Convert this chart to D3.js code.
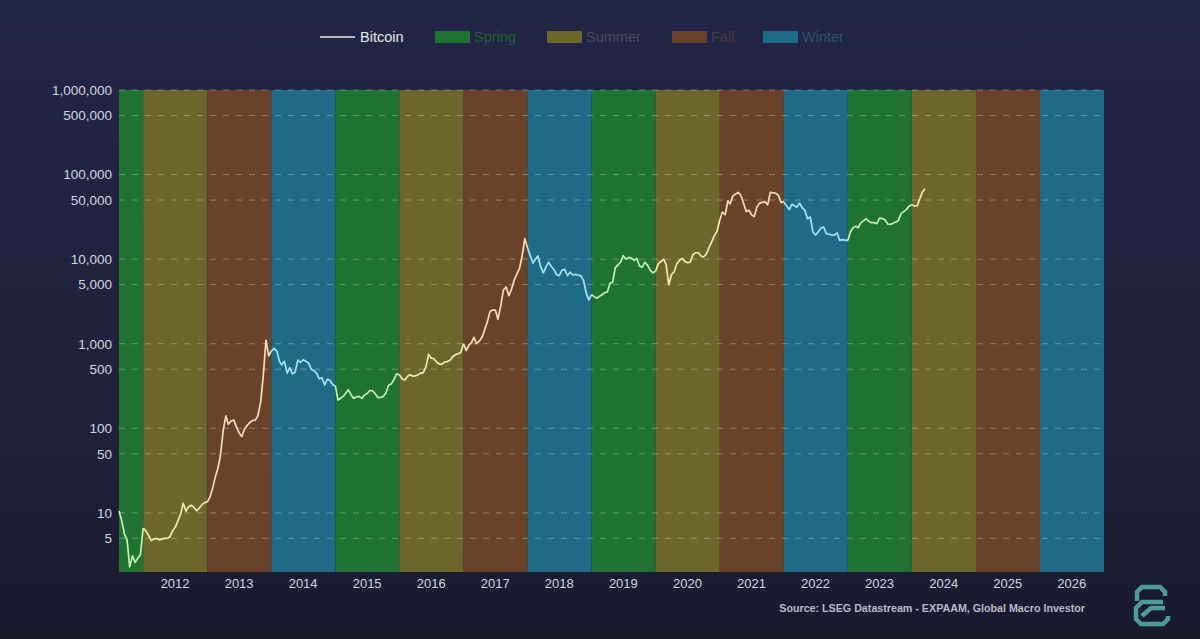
<!DOCTYPE html>
<html>
<head>
<meta charset="utf-8">
<script src="https://cdn.jsdelivr.net/npm/d3@7"></script>
<style>
  html, body { margin: 0; padding: 0; background: #1d1e36; }
  svg { display: block; font-family: "Liberation Sans", Arial, sans-serif; }
</style>
</head>
<body>
<div id="chart"></div>
<script>
// semi-monthly closes (1st and 16th of each month)
var btc2011 = [10.5, 8.0, 5.6, 4.8, 2.3, 3.1, 2.6, 2.9, 3.2]; // starts Aug 16
var btc2012 = [6.6, 6.1, 5.4, 4.7, 4.9, 5.0, 4.8, 4.9, 5.0, 5.0, 5.2, 6.1,
               6.7, 8.0, 9.6, 13.0, 10.5, 11.8, 12.3, 11.6, 10.6, 11.4, 12.5, 13.2];
var btc2013 = [13.5, 15.5, 20, 27, 33, 47, 93, 140, 112, 122, 125, 103,
               88, 80, 98, 108, 118, 124, 125, 140, 205, 420, 1100, 720];
var btc2014 = [820, 880, 820, 620, 560, 620, 450, 520, 440, 460, 640, 600,
               645, 620, 590, 500, 480, 450, 385, 395, 325, 380, 370, 330];
var btc2015 = [315, 215, 228, 240, 260, 285, 248, 226, 236, 238, 226, 248,
               258, 280, 278, 256, 230, 232, 238, 262, 325, 335, 378, 440];
var btc2016 = [430, 385, 372, 410, 432, 415, 417, 430, 450, 456, 540, 750,
               675, 665, 605, 575, 575, 610, 615, 640, 705, 745, 760, 790];
var btc2017 = [1000, 830, 970, 1040, 1190, 1000, 1080, 1190, 1450, 1800, 2400, 2500,
               2500, 1950, 2800, 4300, 4700, 3700, 4400, 5600, 6700, 7800, 10900, 17500];
var btc2018 = [13500, 11000, 9000, 10100, 10900, 8200, 6900, 8100, 9200, 8200, 7500, 6500,
               6400, 7400, 7600, 6400, 7000, 6500, 6600, 6500, 6350, 5600, 4000, 3300];
var btc2019 = [3800, 3600, 3450, 3650, 3800, 4000, 4100, 5200, 5300, 7900, 8600, 9300,
               11000, 10000, 10500, 10300, 9700, 10200, 8300, 8000, 9200, 8500, 7400, 6900];
var btc2020 = [7200, 8800, 9400, 10000, 8600, 5000, 6600, 7100, 8800, 9700, 10200, 9400,
               9100, 9200, 11300, 11900, 11900, 10900, 10600, 11500, 13800, 16000, 19000, 21300];
var btc2021 = [29000, 36000, 33500, 49000, 45000, 56000, 59000, 61500, 57000, 46000, 36500, 38000,
               33500, 31800, 41500, 46000, 47000, 47800, 43800, 61500, 61000, 60000, 57000, 47000];
var btc2022 = [47500, 43000, 38500, 44500, 43000, 41000, 46000, 40500, 38000, 30000, 31500, 21000,
               19300, 21000, 23300, 24000, 20000, 19700, 19300, 19200, 20500, 16600, 17000, 16800];
var btc2023 = [16600, 21000, 23700, 24500, 23500, 26900, 28500, 30000, 28000, 27000, 27000, 26300,
               30500, 30200, 29200, 26000, 25800, 26500, 27500, 28500, 34500, 36500, 38500, 42200];
var btc2024 = [44000, 42500, 43000, 52000, 62000, 68000];

var years = [2011, 2012, 2013, 2014, 2015, 2016, 2017, 2018, 2019, 2020, 2021, 2022, 2023, 2024, 2025, 2026];
var seasons = ["Spring", "Summer", "Fall", "Winter"];
var yTicks = [5, 10, 50, 100, 500, 1000, 5000, 10000, 50000, 100000, 500000, 1000000];

var bandColors = { Spring: "#1f7232", Summer: "#6b672a", Fall: "#6a4229", Winter: "#1f6b87" };
var lineColors = { Spring: "#c4f2ad", Summer: "#efe9b2", Fall: "#f7dcb8", Winter: "#a6e2f6" };
var legendText = { Spring: "#22613a", Summer: "#4d4d5c", Fall: "#4e3d44", Winter: "#2a5677" };

var width = 1200, height = 639;

var svg = d3.select("#chart").append("svg")
  .attr("width", width)
  .attr("height", height);

var defs = svg.append("defs");
var bg = defs.append("linearGradient").attr("id", "bg")
  .attr("x1", 0).attr("y1", 0).attr("x2", 0).attr("y2", 1);
bg.append("stop").attr("offset", "0%").attr("stop-color", "#232546");
bg.append("stop").attr("offset", "70%").attr("stop-color", "#1f2039");
bg.append("stop").attr("offset", "100%").attr("stop-color", "#191a2c");

svg.append("rect")
  .attr("width", width).attr("height", height)
  .attr("fill", "url(#bg)");

// build the series
var series = [];
var raw = { 2011: btc2011, 2012: btc2012, 2013: btc2013, 2014: btc2014, 2015: btc2015,
            2016: btc2016, 2017: btc2017, 2018: btc2018, 2019: btc2019, 2020: btc2020,
            2021: btc2021, 2022: btc2022, 2023: btc2023, 2024: btc2024 };
Object.keys(raw).forEach(function(y) {
  var start = (+y === 2011) ? 15 : 0;
  raw[y].forEach(function(v, i) {
    var k = i + start;
    series.push({ date: new Date(+y, Math.floor(k / 2), k % 2 ? 16 : 1), value: v });
  });
});

var x = d3.scaleTime()
  .domain([new Date(2011, 7, 16), new Date(2027, 0, 1)])
  .range([119, 1104]);

var y = d3.scaleLog()
  .domain([2, 1000000])
  .range([572, 90]);

function seasonOf(yr) { return seasons[(yr - 2011) % 4]; }

// season bands
svg.append("g").attr("class", "bands")
  .selectAll("rect")
  .data(years)
  .enter()
  .append("rect")
  .attr("x", function(d) { return Math.max(x(new Date(d, 0, 1)), x.range()[0]); })
  .attr("width", function(d) {
    return x(new Date(d + 1, 0, 1)) - Math.max(x(new Date(d, 0, 1)), x.range()[0]);
  })
  .attr("y", y(1000000))
  .attr("height", y(2) - y(1000000))
  .attr("fill", function(d) { return bandColors[seasonOf(d)]; });

// dashed grid
svg.append("g").attr("class", "grid")
  .selectAll("line")
  .data(yTicks)
  .enter()
  .append("line")
  .attr("x1", x.range()[0])
  .attr("x2", x.range()[1])
  .attr("y1", function(d) { return y(d); })
  .attr("y2", function(d) { return y(d); })
  .attr("stroke", "#ffffff")
  .attr("stroke-opacity", 0.3)
  .attr("stroke-width", 1)
  .attr("stroke-dasharray", "6,7");

// y labels
svg.append("g").attr("class", "y-labels")
  .selectAll("text")
  .data(yTicks)
  .enter()
  .append("text")
  .attr("x", 112)
  .attr("y", function(d) { return y(d); })
  .attr("dy", "0.36em")
  .attr("text-anchor", "end")
  .attr("font-size", 13.5)
  .attr("fill", "#d4d5e0")
  .text(function(d) { return d3.format(",")(d); });

// x labels at mid-year
svg.append("g").attr("class", "x-labels")
  .selectAll("text")
  .data(years.slice(1))
  .enter()
  .append("text")
  .attr("x", function(d) { return x(new Date(d, 6, 1)); })
  .attr("y", 588)
  .attr("text-anchor", "middle")
  .attr("font-size", 13)
  .attr("fill", "#d4d5e0")
  .text(function(d) { return d; });

// bitcoin line, coloured by season
var line = d3.line()
  .x(function(d) { return x(d.date); })
  .y(function(d) { return y(d.value); });

years.forEach(function(yr) {
  var idx = [];
  series.forEach(function(d, i) { if (d.date.getFullYear() === yr) idx.push(i); });
  if (!idx.length) return;
  var seg = series.slice(idx[0], Math.min(idx[idx.length - 1] + 2, series.length));
  svg.append("path")
    .datum(seg)
    .attr("fill", "none")
    .attr("stroke", lineColors[seasonOf(yr)])
    .attr("stroke-width", 1.7)
    .attr("stroke-linejoin", "round")
    .attr("d", line);
});

// legend
var legend = svg.append("g").attr("class", "legend")
  .attr("font-size", 14.5);
legend.append("line")
  .attr("x1", 320).attr("x2", 355)
  .attr("y1", 37).attr("y2", 37)
  .attr("stroke", "#e8e8f0").attr("stroke-width", 1.5);
legend.append("text")
  .attr("x", 360).attr("y", 37).attr("dy", "0.35em")
  .attr("fill", "#e8e8f0")
  .text("Bitcoin");

var legendX = { Spring: 435, Summer: 547, Fall: 672, Winter: 763 };
seasons.forEach(function(s) {
  legend.append("rect")
    .attr("x", legendX[s]).attr("y", 31)
    .attr("width", 35).attr("height", 12)
    .attr("fill", bandColors[s]);
  legend.append("text")
    .attr("x", legendX[s] + 39).attr("y", 37).attr("dy", "0.35em")
    .attr("fill", legendText[s])
    .text(s);
});

// source note
svg.append("text")
  .attr("x", 1085).attr("y", 612)
  .attr("text-anchor", "end")
  .attr("font-size", 10.7)
  .attr("font-weight", "bold")
  .attr("fill", "#b9bac6")
  .text("Source: LSEG Datastream - EXPAAM, Global Macro Investor");

// logo
svg.append("path")
  .attr("d", "M1137,601 L1137,592 L1142,587 L1160,587 L1165,592 L1165,596 " +
             "M1163,602 L1142,602 L1136,608 L1136,619 L1141,624 L1163,624 L1168,619 L1168,616 " +
             "M1142,616 L1151,608 L1165,608")
  .attr("fill", "none")
  .attr("stroke", "#4f9a9c")
  .attr("stroke-width", 4.5)
  .attr("stroke-linejoin", "miter");
</script>
</body>
</html>
